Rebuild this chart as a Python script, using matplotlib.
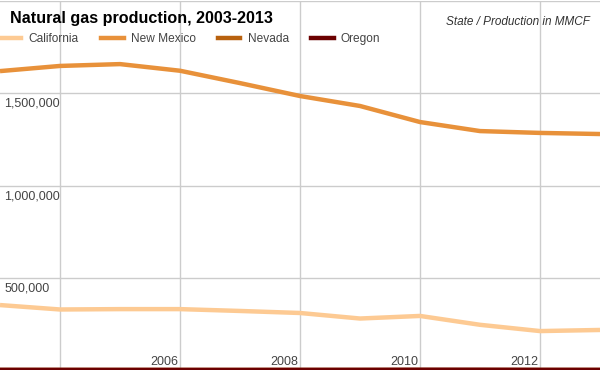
import matplotlib
matplotlib.use("Agg")
import matplotlib.pyplot as plt
from matplotlib.lines import Line2D

plt.rcParams['font.family'] = ['Liberation Sans', 'DejaVu Sans']

# data (MMCF)
years = [2003, 2004, 2005, 2006, 2007, 2008, 2009, 2010, 2011, 2012, 2013]
california = [352000, 328000, 330000, 330000, 320000, 309000, 279000, 293000, 245000, 211000, 217000]
new_mexico = [1620000, 1648000, 1658000, 1622000, 1555000, 1485000, 1431000, 1344000, 1295000, 1285000, 1279000]
nevada = [4, 4, 4, 4, 4, 4, 4, 4, 4, 4, 4]
oregon = [800, 700, 600, 500, 400, 700, 800, 1400, 1300, 800, 700]

series_names = ['California', 'New Mexico', 'Nevada', 'Oregon']
series_colors = ['#fdca93', '#e8913a', '#b8610e', '#6b0000']
series_values = [california, new_mexico, nevada, oregon]

y_ticks = [500000, 1000000, 1500000, 2000000]
x_label_years = [2006, 2008, 2010, 2012]
x_grid_years = [2004, 2006, 2008, 2010, 2012]

fig = plt.figure(figsize=(6, 3.71), dpi=100)
ax = fig.add_axes([0, 1 / 371, 1, 369 / 371])
ax.set_xlim(2003, 2013)
ax.set_ylim(0, 2000000)

for yv in y_ticks:
    ax.axhline(yv, color='#cccccc', lw=1, zorder=1)
    if yv < 2000000:
        ax.text(2003.07, yv - 25000, f'{yv:,}', ha='left', va='top',
                fontsize=9, color='#444444', zorder=2)
for xv in x_grid_years:
    ax.axvline(xv, color='#cccccc', lw=1, zorder=1)
for xv in x_label_years:
    ax.text(xv - 0.03, 12000, str(xv), ha='right', va='bottom',
            fontsize=9, color='#444444', zorder=2)

for name, vals, col in zip(series_names, series_values, series_colors):
    ax.plot(years, vals, color=col, lw=3.2, solid_capstyle='butt', zorder=3)

ax.axis('off')

# title, subtitle and legend
fig.text(10 / 600, 1 - 18 / 371, 'Natural gas production, 2003-2013', fontsize=11.6,
         fontweight='bold', ha='left', va='center', color='#000000')
fig.text(590 / 600, 1 - 22 / 371, 'State / Production in MMCF', fontsize=8.5,
         style='italic', ha='right', va='center', color='#333333')

handles = [Line2D([0], [0], color=c, lw=3.2) for c in series_colors]
leg = fig.legend(handles, series_names, loc='center left',
                 bbox_to_anchor=(-0.02, 1 - 39 / 371), ncol=4, frameon=False,
                 fontsize=8.6, handlelength=1.9, handletextpad=0.6,
                 columnspacing=1.85, labelcolor='#444444')

fig.savefig('out.png', dpi=100)
